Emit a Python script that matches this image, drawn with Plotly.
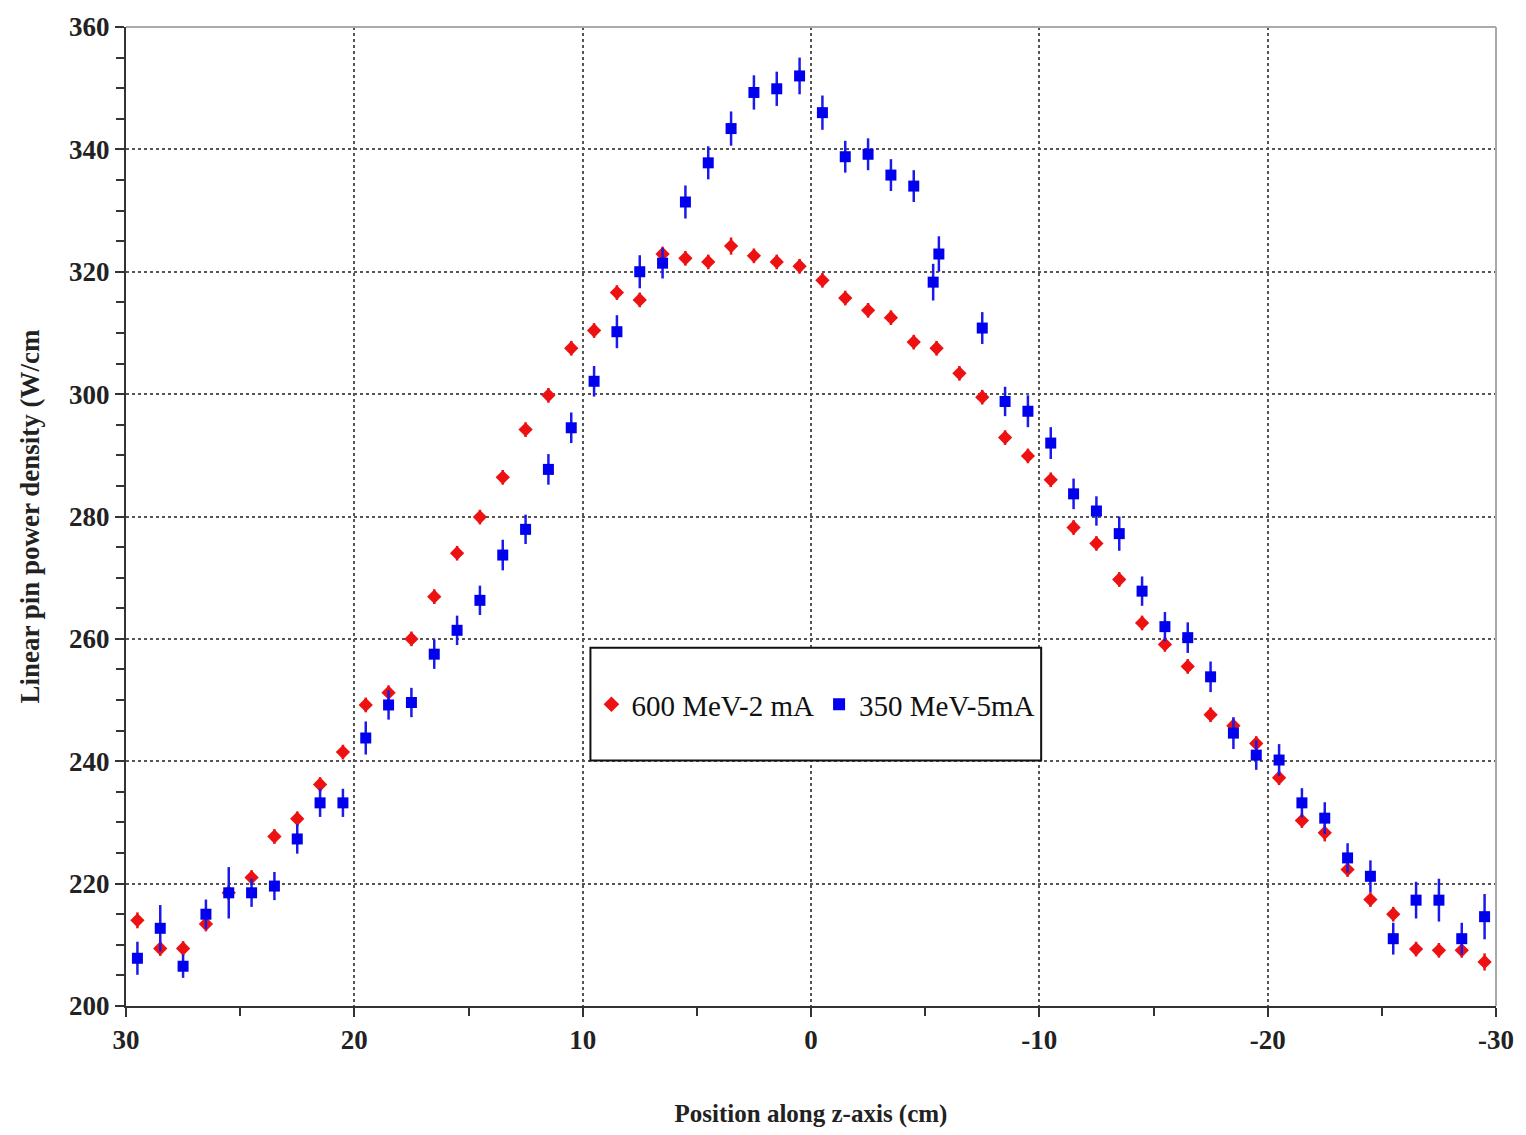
import plotly.graph_objects as go

# ---- data ----
red_x = [29.5, 28.5, 27.5, 26.5, 25.5, 24.5, 23.5, 22.5, 21.5, 20.5,
         19.5, 18.5, 17.5, 16.5, 15.5, 14.5, 13.5, 12.5, 11.5, 10.5,
         9.5, 8.5, 7.5, 6.5, 5.5, 4.5, 3.5, 2.5, 1.5, 0.5,
         -0.5, -1.5, -2.5, -3.5, -4.5, -5.5, -6.5, -7.5, -8.5, -9.5,
         -10.5, -11.5, -12.5, -13.5, -14.5, -15.5, -16.5, -17.5, -18.5, -19.5,
         -20.5, -21.5, -22.5, -23.5, -24.5, -25.5, -26.5, -27.5, -28.5, -29.5]
red_y = [214.0, 209.4, 209.4, 213.4, 218.5, 221.0, 227.7, 230.6, 236.2, 241.5,
         249.2, 251.2, 260.0, 266.9, 274.0, 279.9, 286.4, 294.2, 299.8, 307.5,
         310.4, 316.6, 315.4, 322.9, 322.2, 321.6, 324.2, 322.6, 321.6, 320.9,
         318.6, 315.7, 313.7, 312.5, 308.5, 307.5, 303.4, 299.5, 292.9, 289.9,
         286.0, 278.2, 275.6, 269.7, 262.6, 259.1, 255.5, 247.6, 245.8, 242.9,
         237.3, 230.3, 228.3, 222.3, 217.4, 215.0, 209.3, 209.1, 209.1, 207.2]
red_err = [1.3, 1.2, 1.2, 1.2, 1.2, 1.2, 1.2, 1.2, 1.2, 1.2,
           1.2, 1.2, 1.2, 1.2, 1.2, 1.2, 1.2, 1.2, 1.2, 1.2,
           1.2, 1.2, 1.2, 1.2, 1.2, 1.2, 1.4, 1.2, 1.2, 1.2,
           1.2, 1.2, 1.2, 1.2, 1.2, 1.2, 1.2, 1.2, 1.2, 1.2,
           1.2, 1.2, 1.2, 1.2, 1.2, 1.2, 1.2, 1.2, 1.2, 1.2,
           1.2, 1.2, 1.4, 1.2, 1.2, 1.2, 1.2, 1.2, 1.2, 1.4]

blue_x = [29.5, 28.5, 27.5, 26.5, 25.5, 24.5, 23.5, 22.5, 21.5, 20.5,
          19.5, 18.5, 17.5, 16.5, 15.5, 14.5, 13.5, 12.5, 11.5, 10.5,
          9.5, 8.5, 7.5, 6.5, 5.5, 4.5, 3.5, 2.5, 1.5, 0.5,
          -0.5, -1.5, -2.5, -3.5, -4.5, -5.35, -5.6, -7.5, -8.5, -9.5,
          -10.5, -11.5, -12.5, -13.5, -14.5, -15.5, -16.5, -17.5, -18.5, -19.5,
          -20.5, -21.5, -22.5, -23.5, -24.5, -25.5, -26.5, -27.5, -28.5, -29.5]
blue_y = [207.8, 212.7, 206.5, 215.0, 218.5, 218.5, 219.6, 227.3, 233.2, 233.2,
          243.8, 249.2, 249.6, 257.5, 261.4, 266.3, 273.7, 277.9, 287.7, 294.5,
          302.1, 310.2, 320.0, 321.4, 331.4, 337.8, 343.4, 349.3, 349.9, 352.0,
          346.0, 338.8, 339.2, 335.8, 334.0, 318.3, 322.9, 310.8, 298.8, 297.2,
          292.0, 283.7, 280.9, 277.2, 267.8, 262.0, 260.2, 253.8, 244.6, 241.0,
          240.2, 233.2, 230.7, 224.2, 221.2, 211.0, 217.3, 217.3, 211.0, 214.6]
blue_err = [2.7, 3.8, 1.9, 2.4, 4.2, 2.3, 2.3, 2.4, 2.3, 2.3,
            2.7, 2.4, 2.4, 2.4, 2.4, 2.4, 2.5, 2.4, 2.5, 2.5,
            2.5, 2.7, 2.7, 2.5, 2.7, 2.7, 2.8, 2.8, 2.8, 3.0,
            2.8, 2.6, 2.6, 2.6, 2.6, 3.0, 2.9, 2.6, 2.4, 2.6,
            2.6, 2.5, 2.4, 2.8, 2.4, 2.4, 2.5, 2.5, 2.6, 2.4,
            2.6, 2.4, 2.6, 2.4, 2.6, 2.6, 3.0, 3.5, 2.6, 3.7]

x_ticks = [30, 20, 10, 0, -10, -20, -30]
y_ticks = [200, 220, 240, 260, 280, 300, 320, 340, 360]

SERIF = "Liberation Serif, Times New Roman, serif"

fig = go.Figure()
fig.add_trace(go.Scatter(
    x=red_x, y=red_y, mode="markers", name="600 MeV-2 mA",
    marker=dict(symbol="diamond", size=11, color="#ee1111", line=dict(width=0)),
    error_y=dict(type="data", array=red_err, visible=True, color="#ee1111",
                 thickness=2.5, width=0),
))
fig.add_trace(go.Scatter(
    x=blue_x, y=blue_y, mode="markers", name="350 MeV-5mA",
    marker=dict(symbol="square", size=11, color="#0000ee", line=dict(width=0)),
    error_y=dict(type="data", array=blue_err, visible=True, color="#1a1aee",
                 thickness=2.5, width=0),
))

grid_style = dict(showgrid=True, gridcolor="#555555", gridwidth=2, griddash="dot")

fig.update_xaxes(
    range=[30, -30], tickvals=x_ticks, ticktext=[str(v) for v in x_ticks],
    ticks="outside", ticklen=9, tickwidth=2, tickcolor="#333333",
    showline=True, linecolor="#333333", linewidth=2, mirror=False,
    zeroline=False,
    minor=dict(dtick=5, tick0=0, ticks="outside", ticklen=8, tickwidth=2,
               tickcolor="#333333", showgrid=False),
    tickfont=dict(family=SERIF, size=27, color="#222222", weight="bold"),
    title=dict(text="Position along z-axis (cm)", standoff=50,
               font=dict(family=SERIF, size=25, color="#222222", weight="bold")),
    **grid_style,
)
fig.update_yaxes(
    range=[200, 360], tickvals=y_ticks, ticktext=[str(v) for v in y_ticks],
    ticks="outside", ticklen=9, tickwidth=2, tickcolor="#333333",
    showline=True, linecolor="#333333", linewidth=2, mirror=False,
    zeroline=False,
    minor=dict(dtick=5, tick0=200, ticks="outside", ticklen=8, tickwidth=2,
               tickcolor="#333333", showgrid=False),
    tickfont=dict(family=SERIF, size=27, color="#222222", weight="bold"),
    title=dict(text="Linear pin power density (W/cm", standoff=22,
               font=dict(family=SERIF, size=27, color="#222222", weight="bold")),
    **grid_style,
)

fig.update_layout(
    width=1526, height=1135,
    margin=dict(l=126, r=22, t=19, b=126),
    paper_bgcolor="white", plot_bgcolor="white",
    showlegend=True,
    legend=dict(
        orientation="h", x=0.5036, y=0.308, xanchor="center", yanchor="middle",
        bgcolor="rgba(0,0,0,0)", borderwidth=0,
        font=dict(family=SERIF, size=29, color="#111111"),
        itemsizing="constant", itemwidth=30,
    ),
    shapes=[
        dict(type="rect", xref="paper", yref="paper", x0=0.339, x1=0.668,
             y0=0.2507, y1=0.366, line=dict(color="#111111", width=2),
             fillcolor="white", layer="above"),
        dict(type="line", xref="paper", yref="paper", x0=0, x1=1, y0=1, y1=1,
             line=dict(color="#aaaaaa", width=2)),
        dict(type="line", xref="paper", yref="paper", x0=1, x1=1, y0=0, y1=1,
             line=dict(color="#aaaaaa", width=2)),
    ],
)

fig.write_html("out.html")
